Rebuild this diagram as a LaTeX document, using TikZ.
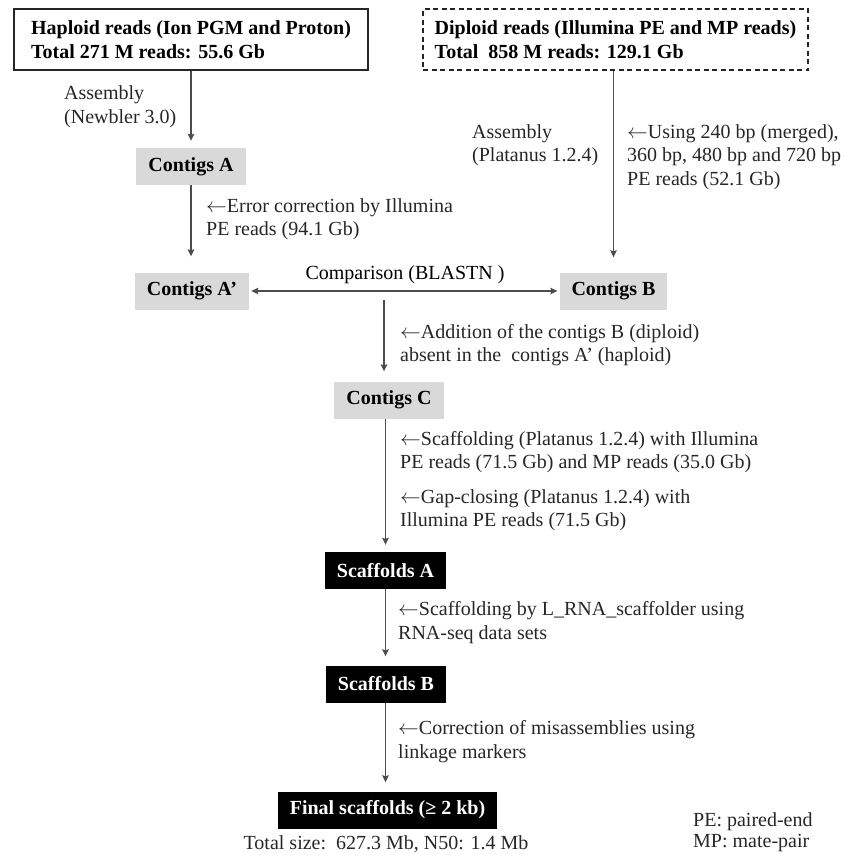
\documentclass[tikz,border=0pt]{standalone}
\usepackage{fontspec}
\setmainfont{Liberation Serif}
\usetikzlibrary{arrows.meta}

\newcommand{\flowfont}{\fontsize{20}{23.5}\selectfont}
\newcommand{\larr}{$\leftarrow$}

\tikzset{
  >={Stealth[length=7pt,width=6.5pt,inset=1pt]},
  readbox/.style={draw=black!85, line width=1.4pt, align=left, minimum height=61pt, font=\flowfont\bfseries},
  contig/.style={fill=black!15, minimum height=37pt, inner xsep=12pt, font=\flowfont\bfseries},
  scaffold/.style={fill=black, text=white, minimum height=37pt, inner xsep=12pt, font=\flowfont\bfseries},
  note/.style={align=left, inner sep=0pt, anchor=west, text=black!85},
  flow/.style={->, draw=black!70, line width=1.2pt},
}

\begin{document}
\begin{tikzpicture}[x=1pt, y=-1pt, font=\flowfont]
    \useasboundingbox (0,0) rectangle (847,855);

    % Read sets
    \node[readbox, minimum width=354pt] (hap) at (191,39.5) {Haploid reads (Ion PGM and Proton)\\Total 271 M reads: 55.6 Gb};
    \node[readbox, dash pattern=on 5pt off 3.5pt, minimum width=385pt] (dip) at (615.5,39.5) {Diploid reads (Illumina PE and MP reads)\\Total\ \ 858 M reads: 129.1 Gb};

    % Contigs
    \node[contig] (ca) at (191,166.5) {Contigs A};
    \node[contig] (cap) at (192,291) {Contigs A’};
    \node[contig] (cb) at (613.5,291) {Contigs B};
    \node[contig] (cc) at (389,400) {Contigs C};

    % Scaffolds
    \node[scaffold] (sa) at (385.5,570.5) {Scaffolds A};
    \node[scaffold] (sb) at (386,684) {Scaffolds B};
    \node[scaffold] (fin) at (387.5,810) {Final scaffolds (≥ 2 kb)};
    \node[text=black!85] (total) at (386,844) {Total size:\ \ 627.3 Mb, N50: 1.4 Mb};

    % Haploid branch
    \draw[flow, shorten >=7pt] (hap.south -| ca) -- (ca.north);
    \node[note] (asmA) at (64,106.5) {Assembly\\(Newbler 3.0)};
    \draw[flow, shorten >=16pt] (ca.south) -- (ca.south |- cap.north);
    \node[note] (ecA) at (206,219) {\larr Error correction by Illumina\\PE reads (94.1 Gb)};

    % Diploid branch
    \draw[flow, shorten >=15pt] (dip.south -| cb) -- (cb.north);
    \node[note] (asmB) at (472,145) {Assembly\\(Platanus 1.2.4)};
    \node[note] (useB) at (627,157) {\larr Using 240 bp (merged),\\360 bp, 480 bp and 720 bp\\PE reads (52.1 Gb)};

    % Comparison
    \draw[flow, <->, shorten <=2pt, shorten >=2pt] (cap.east) -- (cap.east -| cb.west);
    \node (cmp) at (405,275) {Comparison (BLASTN )};
    \coordinate (drop) at (384,300);
    \draw[flow, shorten >=10pt] (drop) -- (drop |- cc.north);
    \node[note] (addC) at (400,345) {\larr Addition of the contigs B (diploid)\\absent in the\ \ contigs A’ (haploid)};

    % Scaffolding steps
    \draw[flow, shorten >=7pt] (cc.south -| sa) -- (sa.north);
    \node[note] (scfA) at (400,452) {\larr Scaffolding (Platanus 1.2.4) with Illumina\\PE reads (71.5 Gb) and MP reads (35.0 Gb)};
    \node[note] (gapA) at (400,510) {\larr Gap-closing (Platanus 1.2.4) with\\Illumina PE reads (71.5 Gb)};
    \draw[flow, shorten >=9pt] (sa.south) -- (sa.south |- sb.north);
    \node[note] (rnaB) at (398,622.5) {\larr Scaffolding by L\_RNA\_scaffolder using\\RNA-seq data sets};
    \draw[flow, shorten >=9pt] (sb.south -| sa) -- (sa |- fin.north);
    \node[note] (corF) at (398,741.5) {\larr Correction of misassemblies using\\linkage markers};

    % Legend
    \node[note, text=black!85] (legend) at (693,832) {PE: paired-end\\[-3pt]MP: mate-pair};
\end{tikzpicture}
\end{document}
